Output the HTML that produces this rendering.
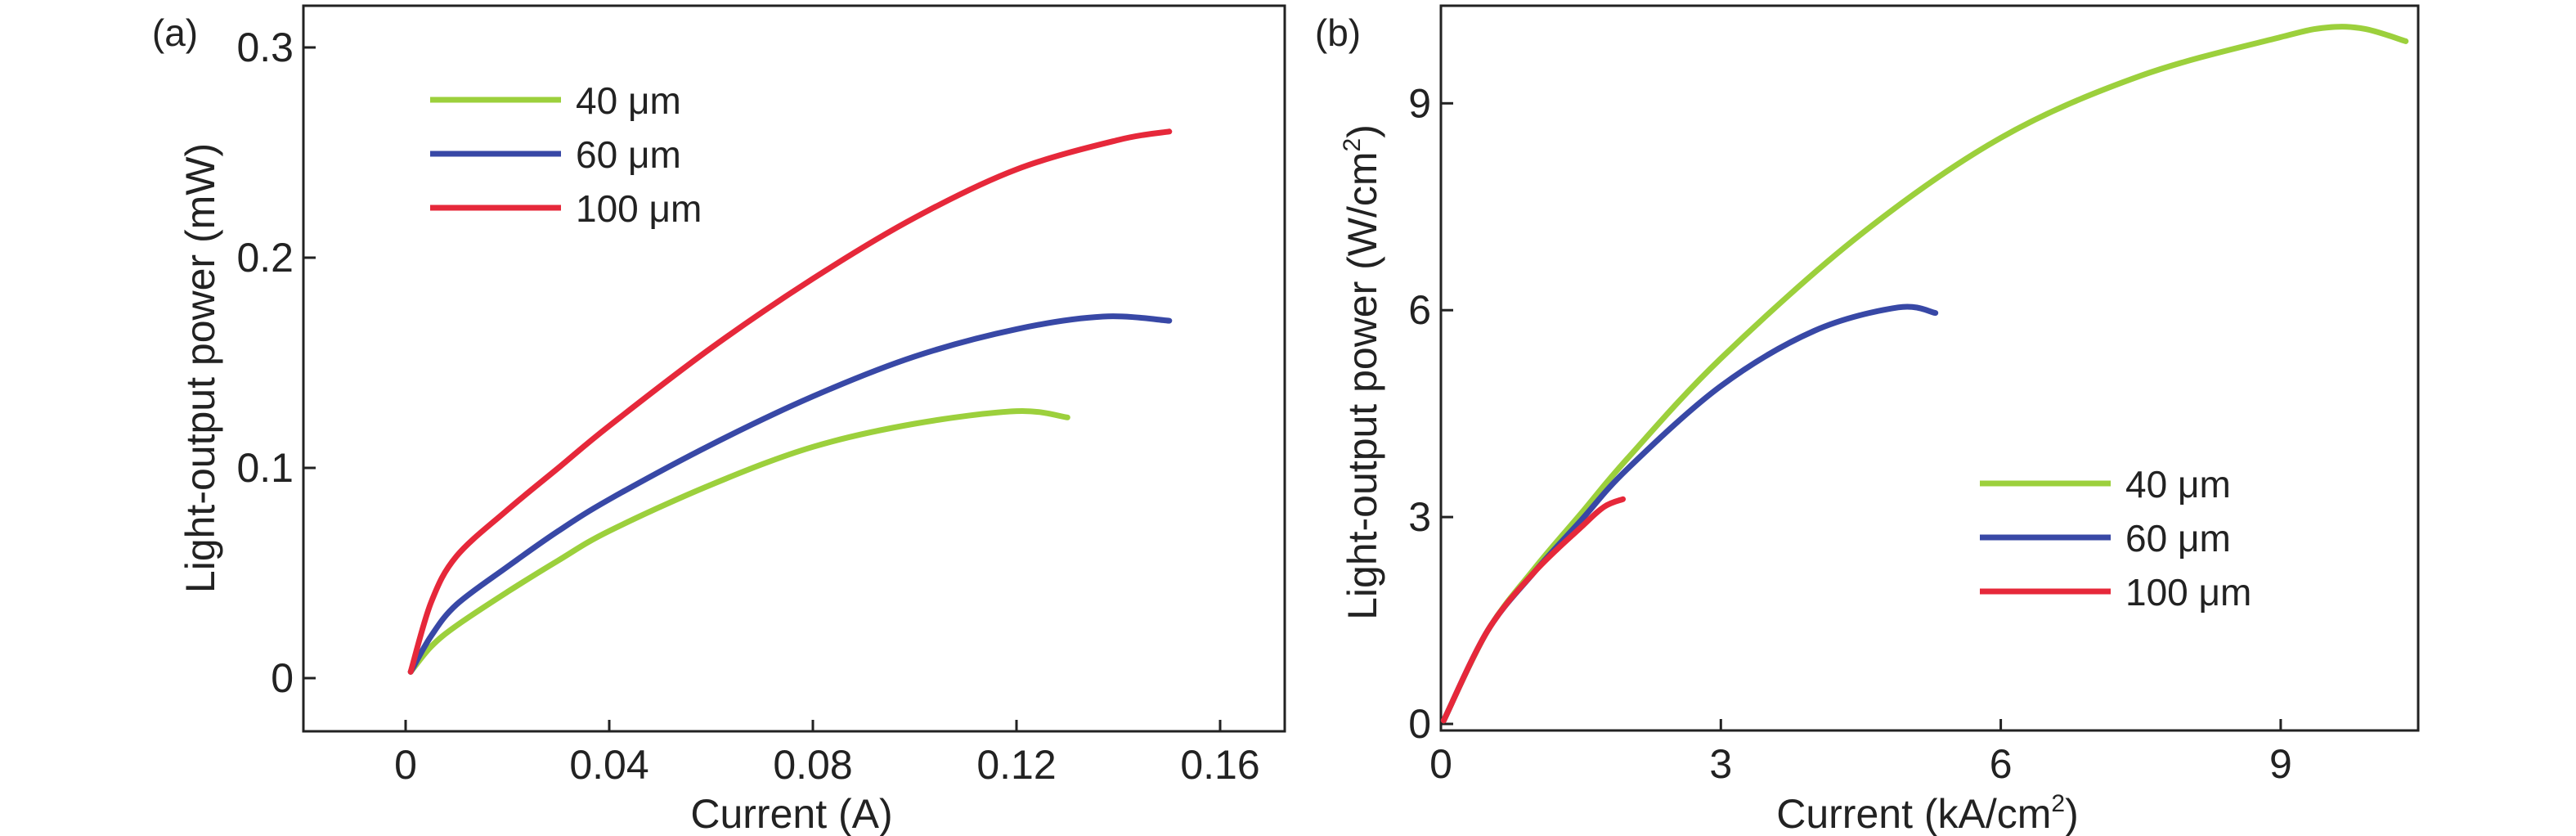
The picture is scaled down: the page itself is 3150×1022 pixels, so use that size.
<!DOCTYPE html>
<html><head><meta charset="utf-8"><style>
html,body{margin:0;padding:0;background:#fff}
svg{display:block}
text{font-family:"Liberation Sans Narrow","Liberation Sans",sans-serif;fill:#222}
</style></head><body>
<svg id="chart" width="3150" height="1022" viewBox="0 0 3150 1022" xmlns="http://www.w3.org/2000/svg"></svg>
<script>
// Panel (a) data: current (A) vs power (mW)
const aTicksX = [0, 0.04, 0.08, 0.12, 0.16];
const aTickLabelsX = ["0", "0.04", "0.08", "0.12", "0.16"];
const aTicksY = [0, 0.1, 0.2, 0.3];
const aTickLabelsY = ["0", "0.1", "0.2", "0.3"];
const a40x = [0.001, 0.005, 0.01, 0.02, 0.03, 0.04, 0.06, 0.08, 0.1, 0.12, 0.13];
const a40y = [0.003, 0.015, 0.025, 0.041, 0.056, 0.070, 0.092, 0.110, 0.121, 0.127, 0.124];
const a60x = [0.001, 0.005, 0.01, 0.02, 0.03, 0.04, 0.06, 0.08, 0.1, 0.12, 0.137, 0.15];
const a60y = [0.003, 0.020, 0.035, 0.053, 0.070, 0.085, 0.111, 0.134, 0.153, 0.166, 0.172, 0.170];
const a100x = [0.001, 0.005, 0.01, 0.02, 0.03, 0.04, 0.06, 0.08, 0.1, 0.12, 0.14, 0.15];
const a100y = [0.003, 0.036, 0.058, 0.080, 0.100, 0.120, 0.157, 0.190, 0.219, 0.242, 0.256, 0.260];
// Panel (b) data: current density (kA/cm2) vs power density (W/cm2)
const bTicksX = [0, 3, 6, 9];
const bTickLabelsX = ["0", "3", "6", "9"];
const bTicksY = [0, 3, 6, 9];
const bTickLabelsY = ["0", "3", "6", "9"];
const b40x = [0.03, 0.5, 1, 1.5, 2, 3, 4.5, 6, 7.5, 9, 9.5, 9.9, 10.34];
const b40y = [0.05, 1.35, 2.25, 3.05, 3.85, 5.3, 7.1, 8.5, 9.4, 9.96, 10.1, 10.08, 9.9];
const b60x = [0.03, 0.5, 1, 1.5, 2, 3, 4, 4.9, 5.3];
const b60y = [0.05, 1.35, 2.2, 2.95, 3.7, 4.9, 5.7, 6.04, 5.96];
const b100x = [0.03, 0.5, 1, 1.5, 1.75, 1.95];
const b100y = [0.05, 1.35, 2.2, 2.85, 3.15, 3.26];
const seriesNames = ["40 μm", "60 μm", "100 μm"];
const colors = ["#9cd03c", "#3848a6", "#e6283a"];

const NS = "http://www.w3.org/2000/svg";
const svg = document.getElementById("chart");
function mk(tag, attrs, parent) {
  const e = document.createElementNS(NS, tag);
  for (const k in attrs) e.setAttribute(k, attrs[k]);
  (parent || svg).appendChild(e);
  return e;
}
const ax = v => 496 + v * 6225;
const ay = v => 829 - v * 2570;
const bx = v => 1762 + v * 114.1;
const by = v => 885 - v * 84.3;

function smoothPath(P) {
  let d = "M" + P[0][0].toFixed(1) + "," + P[0][1].toFixed(1);
  for (let i = 0; i < P.length - 1; i++) {
    const p0 = P[Math.max(0, i - 1)], p1 = P[i], p2 = P[i + 1], p3 = P[Math.min(P.length - 1, i + 2)];
    const c1 = [p1[0] + (p2[0] - p0[0]) / 6, p1[1] + (p2[1] - p0[1]) / 6];
    const c2 = [p2[0] - (p3[0] - p1[0]) / 6, p2[1] - (p3[1] - p1[1]) / 6];
    d += " C" + c1.map(v => v.toFixed(1)).join(",") + " " + c2.map(v => v.toFixed(1)).join(",") + " " + p2[0].toFixed(1) + "," + p2[1].toFixed(1);
  }
  return d;
}

function panel(id, box, sx, sy, tx, txl, ty, tyl, xs, ys, legend, xTitle, yTitle, label, yTitleX, yTitleY, xTitleX) {
  const g = mk("g", {});
  
  
  const r = mk("rect", {x: box[0], y: box[1], width: box[2]-box[0], height: box[3]-box[1], fill: "none", stroke: "#222", "stroke-width": 3}, g);
  
  
  tx.forEach((v, i) => {
    const X = sx(v);
    const t = mk("line", {x1: X, x2: X, y1: box[3], y2: box[3]-14, stroke: "#222", "stroke-width": 3}, g);
    
    
    const l = mk("text", {x: X, y: box[3]+58, "text-anchor": "middle", "font-size": 50}, g);
    l.textContent = txl[i];
    
    
  });
  ty.forEach((v, i) => {
    const Y = sy(v);
    const t = mk("line", {x1: box[0], x2: box[0]+15, y1: Y, y2: Y, stroke: "#222", "stroke-width": 3}, g);
    
    
    const l = mk("text", {x: box[0]-12, y: Y+17, "text-anchor": "end", "font-size": 50}, g);
    l.textContent = tyl[i];
    
    
  });
  xs.forEach((arr, s) => {
    const P = arr.map((v, i) => [sx(v), sy(ys[s][i])]);
    const p = mk("path", {d: smoothPath(P), fill: "none", stroke: colors[s], "stroke-width": 7, "stroke-linecap": "round", "stroke-linejoin": "round"}, g);
    
    
  });
  seriesNames.forEach((n, s) => {
    const y = legend[1] + s * legend[2];
    const ln = mk("line", {x1: legend[0], x2: legend[0]+160, y1: y, y2: y, stroke: colors[s], "stroke-width": 7}, g);
    
    
    const t = mk("text", {x: legend[0]+178, y: y+17, "font-size": 46}, g);
    t.textContent = n;
    
    
  });
  const xt = mk("text", {x: xTitleX, y: 1012, "text-anchor": "middle", "font-size": 50}, g);
  xt.innerHTML = xTitle;
  
  
  const yt = mk("text", {x: 0, y: 0, "text-anchor": "middle", "font-size": 50, transform: "translate(" + yTitleX + "," + yTitleY + ") rotate(-90)"}, g);
  yt.innerHTML = yTitle;
  
  
  const pl = mk("text", {x: label[0], y: label[1], "text-anchor": "middle", "font-size": 46}, g);
  pl.textContent = label[2];
  
  
}

panel("panel-a", [371, 7, 1571, 894], ax, ay, aTicksX, aTickLabelsX, aTicksY, aTickLabelsY,
  [a40x, a60x, a100x], [a40y, a60y, a100y], [526, 122, 66],
  "Current (A)", "Light-output power (mW)", [214, 56, "(a)"], 262, 450, 968);
panel("panel-b", [1762, 7, 2957, 893], bx, by, bTicksX, bTickLabelsX, bTicksY, bTickLabelsY,
  [b40x, b60x, b100x], [b40y, b60y, b100y], [2421, 591, 66],
  "Current (kA/cm<tspan font-size='30' dy='-20'>2</tspan><tspan dy='20'>)</tspan>",
  "Light-output power (W/cm<tspan font-size='30' dy='-20'>2</tspan><tspan dy='20'>)</tspan>", [1636, 56, "(b)"], 1683, 455, 2357);
</script>
</body></html>
